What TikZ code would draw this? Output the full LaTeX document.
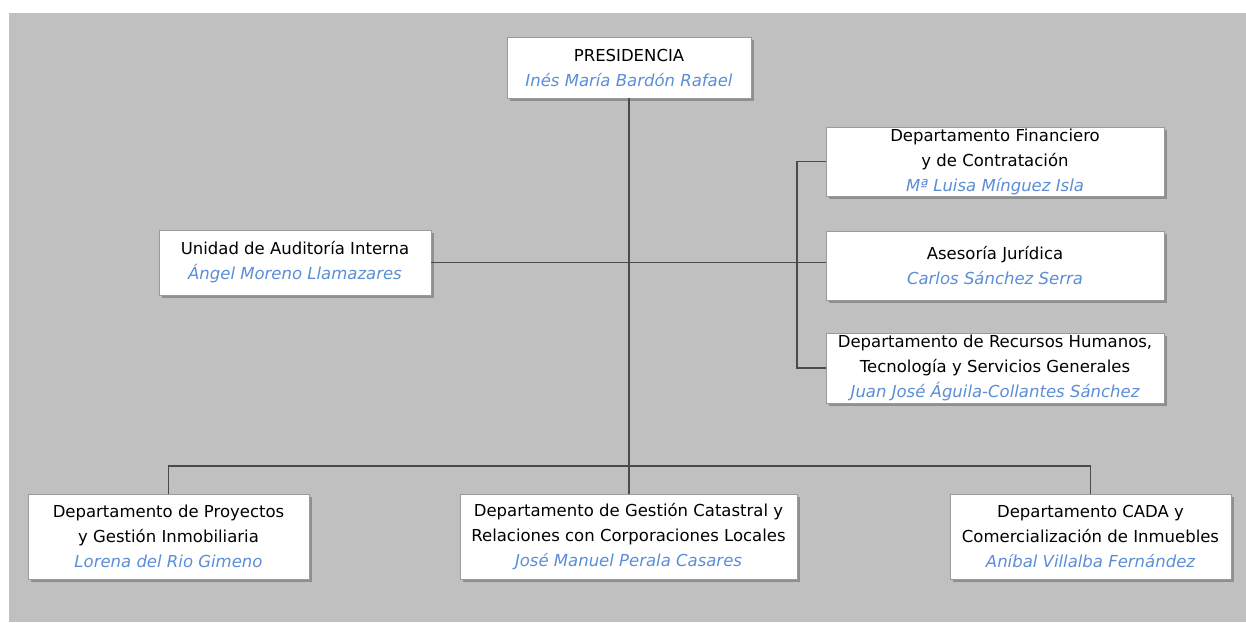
\documentclass[tikz,border=0pt]{standalone}
\usepackage{fontspec}
\setmainfont{DejaVu Sans}
\usetikzlibrary{shadows}
\definecolor{fondo}{HTML}{C0C0C0}
\definecolor{linea}{HTML}{4A4A4A}
\definecolor{nombre}{HTML}{5B8ED6}
\definecolor{borde}{HTML}{9A9A9A}
\newcommand{\cargo}[2]{#1\\{\color{nombre}\itshape #2}}
\tikzset{
  caja/.style={draw=borde, line width=0.8pt, fill=white, align=center, inner sep=0pt,
    font=\fontsize{16.5}{25}\selectfont,
    drop shadow={shadow xshift=3pt, shadow yshift=-3pt, fill=black, opacity=0.25}},
  enlace/.style={draw=linea, line width=1.3pt}
}
\begin{document}
\begin{tikzpicture}[x=1pt,y=-1pt]
\useasboundingbox (0,0) rectangle (1246,622);
\fill[fondo] (9,13) rectangle (1246,622);

% direccion
\node[caja, minimum width=244pt, minimum height=61pt] (pres) at (629,67.5) {\cargo{PRESIDENCIA}{Inés María Bardón Rafael}};
\node[caja, minimum width=272pt, minimum height=65pt] (aud) at (295,262.5) {\cargo{Unidad de Auditoría Interna}{Ángel Moreno Llamazares}};

% apoyo
\node[caja, minimum width=338pt, minimum height=69pt] (fin) at (995,161.5) {Departamento Financiero\\\cargo{y de Contratación}{Mª Luisa Mínguez Isla}};
\node[caja, minimum width=338pt, minimum height=69pt] (ases) at (995,265.5) {\cargo{Asesoría Jurídica}{Carlos Sánchez Serra}};
\node[caja, minimum width=338pt, minimum height=70pt] (rrhh) at (995,368) {Departamento de Recursos Humanos,\\\cargo{Tecnología y Servicios Generales}{Juan José Águila-Collantes Sánchez}};

% departamentos
\node[caja, minimum width=281pt, minimum height=85pt] (proy) at (168.5,536.5) {Departamento de Proyectos\\\cargo{y Gestión Inmobiliaria}{Lorena del Rio Gimeno}};
\node[caja, minimum width=337pt, minimum height=85pt] (cat) at (628.5,536.5) {Departamento de Gestión Catastral y\\\cargo{Relaciones con Corporaciones Locales}{José Manuel Perala Casares}};
\node[caja, minimum width=281pt, minimum height=85pt] (cada) at (1090.5,536.5) {Departamento CADA y\\\cargo{Comercialización de Inmuebles}{Aníbal Villalba Fernández}};

% conectores
\coordinate (bus) at (629,466);
\coordinate (brk) at (797,0);
\draw[enlace] (pres.south) -- (pres.south |- cat.north);
\draw[enlace] (proy.north) -- (proy.north |- bus) -- (cada.north |- bus) -- (cada.north);
\draw[enlace] (aud.east) -- (aud.east -| ases.west);
\draw[enlace] (fin.west) -- (fin.west -| brk) -- (rrhh.west -| brk) -- (rrhh.west);
\end{tikzpicture}
\end{document}
